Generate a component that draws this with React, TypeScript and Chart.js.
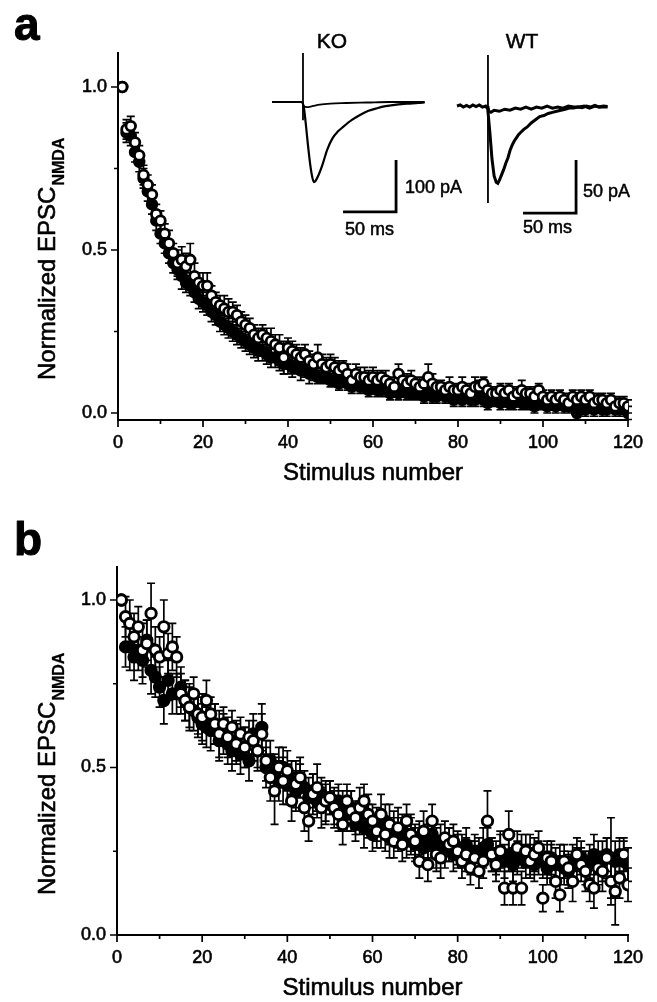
import React, { useEffect, useRef } from "react";
import { Chart, registerables } from "chart.js";
Chart.register(...registerables);

const FONT = '"Liberation Sans", Arial, Helvetica, sans-serif';

// ---------- category / tick data ----------
const stimulus = Array.from({ length: 120 }, (_, i) => i + 1);
const xMajorTicks = [0, 20, 40, 60, 80, 100, 120];
const xMinorTicks = [10, 30, 50, 70, 90, 110];
const yMajorTicks = [0, 0.5, 1.0];
const yMinorTicks = [0.25, 0.75];

// ---------- panel a ----------
const openA = [
  1.0, 0.87, 0.88, 0.83, 0.79, 0.73, 0.7, 0.67, 0.61, 0.59,
  0.55, 0.52, 0.49, 0.46, 0.47, 0.45, 0.47, 0.42, 0.4, 0.39,
  0.39, 0.36, 0.34, 0.33, 0.32, 0.31, 0.31, 0.3, 0.28, 0.27,
  0.26, 0.24, 0.23, 0.24, 0.23, 0.22, 0.21, 0.2, 0.17, 0.2,
  0.19, 0.18, 0.17, 0.18, 0.16, 0.15, 0.17, 0.15, 0.14, 0.15,
  0.14, 0.13, 0.14, 0.12, 0.1, 0.12, 0.11, 0.11, 0.1, 0.11,
  0.1, 0.11, 0.1, 0.09, 0.08, 0.12, 0.1, 0.09, 0.1, 0.09,
  0.08, 0.09, 0.11, 0.09, 0.08, 0.08, 0.07, 0.08, 0.07, 0.07,
  0.08, 0.07, 0.06, 0.08, 0.08, 0.09, 0.07, 0.06, 0.06, 0.07,
  0.06, 0.07, 0.05, 0.06, 0.07, 0.06, 0.06, 0.05, 0.07, 0.05,
  0.04, 0.05, 0.04, 0.05, 0.04, 0.03, 0.05, 0.04, 0.05, 0.04,
  0.05, 0.03, 0.04, 0.04, 0.03, 0.04, 0.02, 0.03, 0.03, 0.02,
];
const errOpenA = [
  0.0, 0.03, 0.03, 0.03, 0.03, 0.03, 0.03, 0.03, 0.03, 0.03,
  0.03, 0.04, 0.03, 0.04, 0.04, 0.04, 0.05, 0.04, 0.03, 0.04,
  0.04, 0.03, 0.03, 0.03, 0.04, 0.04, 0.03, 0.03, 0.03, 0.03,
  0.03, 0.03, 0.03, 0.03, 0.03, 0.04, 0.03, 0.04, 0.05, 0.03,
  0.03, 0.03, 0.03, 0.03, 0.03, 0.03, 0.04, 0.03, 0.03, 0.03,
  0.03, 0.03, 0.02, 0.03, 0.03, 0.03, 0.03, 0.03, 0.03, 0.03,
  0.03, 0.02, 0.03, 0.02, 0.03, 0.03, 0.02, 0.03, 0.03, 0.02,
  0.03, 0.02, 0.04, 0.03, 0.02, 0.02, 0.02, 0.03, 0.02, 0.02,
  0.03, 0.02, 0.02, 0.03, 0.02, 0.02, 0.02, 0.02, 0.02, 0.02,
  0.02, 0.02, 0.02, 0.02, 0.03, 0.02, 0.02, 0.02, 0.02, 0.02,
  0.02, 0.02, 0.02, 0.02, 0.02, 0.02, 0.02, 0.02, 0.02, 0.02,
  0.02, 0.02, 0.02, 0.02, 0.02, 0.02, 0.02, 0.02, 0.02, 0.02,
];
const filledA = [
  1.0, 0.86, 0.85, 0.8, 0.77, 0.72, 0.68, 0.64, 0.59, 0.55,
  0.52, 0.49, 0.46, 0.44, 0.42, 0.4, 0.39, 0.37, 0.35, 0.34,
  0.33, 0.31, 0.3, 0.28, 0.27, 0.26, 0.25, 0.24, 0.23, 0.22,
  0.21, 0.2, 0.19, 0.19, 0.18, 0.17, 0.17, 0.16, 0.15, 0.15,
  0.14, 0.14, 0.13, 0.13, 0.12, 0.12, 0.11, 0.11, 0.11, 0.1,
  0.1, 0.09, 0.1, 0.09, 0.08, 0.09, 0.08, 0.08, 0.07, 0.08,
  0.07, 0.07, 0.08, 0.06, 0.07, 0.06, 0.07, 0.06, 0.06, 0.06,
  0.06, 0.05, 0.06, 0.05, 0.05, 0.06, 0.05, 0.05, 0.04, 0.05,
  0.04, 0.05, 0.04, 0.04, 0.05, 0.04, 0.03, 0.04, 0.04, 0.03,
  0.04, 0.03, 0.03, 0.04, 0.03, 0.03, 0.03, 0.02, 0.03, 0.03,
  0.02, 0.03, 0.02, 0.03, 0.02, 0.02, 0.02, 0.0, 0.02, 0.01,
  0.02, 0.01, 0.02, 0.01, 0.01, 0.02, 0.01, 0.01, 0.02, 0.0,
];
const errFilledA = [
  0.0, 0.03, 0.03, 0.03, 0.03, 0.03, 0.03, 0.03, 0.03, 0.03,
  0.03, 0.03, 0.03, 0.03, 0.04, 0.03, 0.03, 0.03, 0.03, 0.03,
  0.03, 0.03, 0.03, 0.03, 0.03, 0.03, 0.03, 0.03, 0.03, 0.03,
  0.03, 0.03, 0.03, 0.03, 0.03, 0.03, 0.03, 0.03, 0.03, 0.03,
  0.03, 0.02, 0.03, 0.02, 0.03, 0.02, 0.02, 0.02, 0.02, 0.02,
  0.02, 0.02, 0.02, 0.02, 0.02, 0.02, 0.02, 0.02, 0.02, 0.02,
  0.02, 0.02, 0.02, 0.02, 0.02, 0.02, 0.02, 0.02, 0.02, 0.02,
  0.02, 0.02, 0.02, 0.02, 0.02, 0.02, 0.02, 0.02, 0.02, 0.02,
  0.02, 0.02, 0.02, 0.02, 0.02, 0.02, 0.02, 0.02, 0.02, 0.02,
  0.02, 0.02, 0.02, 0.02, 0.02, 0.02, 0.02, 0.02, 0.02, 0.02,
  0.02, 0.02, 0.02, 0.02, 0.02, 0.02, 0.02, 0.02, 0.02, 0.02,
  0.02, 0.02, 0.02, 0.02, 0.02, 0.02, 0.02, 0.02, 0.02, 0.02,
];

// ---------- panel b ----------
const openB = [
  1.0, 0.95, 0.93, 0.89, 0.92, 0.85, 0.87, 0.96, 0.85, 0.83,
  0.92, 0.84, 0.86, 0.83, 0.72, 0.7, 0.68, 0.72, 0.66, 0.65,
  0.7, 0.66, 0.63, 0.6, 0.63, 0.59, 0.62, 0.57, 0.6, 0.56,
  0.59, 0.58, 0.55, 0.6, 0.52, 0.47, 0.43, 0.5, 0.46, 0.49,
  0.4, 0.45, 0.47, 0.38, 0.34, 0.42, 0.44, 0.38, 0.4, 0.41,
  0.38, 0.36, 0.33, 0.4, 0.37, 0.35, 0.38, 0.4, 0.36, 0.34,
  0.31, 0.36, 0.3, 0.33, 0.28, 0.32, 0.27, 0.34, 0.3, 0.28,
  0.22, 0.31, 0.21, 0.34, 0.24, 0.23, 0.29, 0.27, 0.28, 0.25,
  0.22, 0.24, 0.2, 0.23, 0.19, 0.22, 0.34, 0.24, 0.21, 0.25,
  0.14, 0.3, 0.14, 0.26, 0.14, 0.25, 0.22, 0.24, 0.26, 0.11,
  0.23, 0.22, 0.16, 0.12, 0.22, 0.2, 0.16, 0.24, 0.21, 0.19,
  0.15, 0.14, 0.2, 0.19, 0.23, 0.16, 0.13, 0.17, 0.24, 0.15,
];
const errOpenB = [
  0.0, 0.06, 0.07, 0.07, 0.06, 0.08, 0.07, 0.09, 0.07, 0.06,
  0.08, 0.06, 0.07, 0.06, 0.06, 0.06, 0.07, 0.05, 0.06, 0.07,
  0.06, 0.05, 0.06, 0.07, 0.05, 0.06, 0.05, 0.06, 0.05, 0.06,
  0.05, 0.06, 0.05, 0.06, 0.06, 0.07, 0.1, 0.06, 0.07, 0.06,
  0.06, 0.07, 0.06, 0.07, 0.06, 0.06, 0.07, 0.06, 0.06, 0.05,
  0.06, 0.05, 0.06, 0.05, 0.06, 0.05, 0.06, 0.05, 0.06, 0.05,
  0.05, 0.06, 0.05, 0.06, 0.05, 0.06, 0.05, 0.05, 0.06, 0.05,
  0.05, 0.06, 0.05, 0.05, 0.05, 0.06, 0.05, 0.05, 0.05, 0.05,
  0.05, 0.05, 0.05, 0.05, 0.05, 0.05, 0.09, 0.05, 0.05, 0.06,
  0.05, 0.07, 0.05, 0.05, 0.05, 0.05, 0.05, 0.05, 0.05, 0.04,
  0.05, 0.05, 0.05, 0.05, 0.05, 0.05, 0.06, 0.05, 0.05, 0.06,
  0.05, 0.06, 0.05, 0.06, 0.06, 0.07, 0.1, 0.06, 0.05, 0.05,
];
const filledB = [
  1.0, 0.86, 0.86, 0.83, 0.85, 0.82, 0.88, 0.79, 0.77, 0.74,
  0.7, 0.76, 0.72, 0.72, 0.74, 0.7, 0.68, 0.67, 0.65, 0.63,
  0.62, 0.61, 0.63, 0.58, 0.6, 0.57, 0.55, 0.58, 0.54, 0.56,
  0.52, 0.6, 0.55, 0.62, 0.5, 0.52, 0.48, 0.46, 0.5, 0.45,
  0.47, 0.43, 0.46, 0.44, 0.41, 0.43, 0.4, 0.42, 0.39, 0.41,
  0.38, 0.4, 0.37, 0.36, 0.38, 0.33, 0.35, 0.32, 0.34, 0.3,
  0.33, 0.31, 0.34, 0.29, 0.32, 0.3, 0.31, 0.28, 0.3, 0.27,
  0.29, 0.26, 0.28, 0.3, 0.26, 0.28, 0.25, 0.27, 0.24, 0.26,
  0.25, 0.27, 0.23, 0.25, 0.24, 0.26, 0.27, 0.24, 0.23, 0.25,
  0.22, 0.24, 0.21, 0.23, 0.25, 0.22, 0.24, 0.21, 0.23, 0.22,
  0.2, 0.23, 0.21, 0.22, 0.2, 0.19, 0.22, 0.21, 0.23, 0.2,
  0.22, 0.24, 0.23, 0.22, 0.24, 0.23, 0.22, 0.24, 0.22, 0.21,
];
const errFilledB = [
  0.0, 0.06, 0.07, 0.07, 0.06, 0.07, 0.06, 0.07, 0.06, 0.06,
  0.07, 0.06, 0.06, 0.06, 0.06, 0.06, 0.06, 0.06, 0.06, 0.06,
  0.06, 0.06, 0.06, 0.06, 0.06, 0.06, 0.06, 0.06, 0.06, 0.06,
  0.06, 0.06, 0.06, 0.07, 0.06, 0.06, 0.06, 0.06, 0.06, 0.06,
  0.05, 0.06, 0.05, 0.05, 0.06, 0.05, 0.05, 0.05, 0.06, 0.05,
  0.05, 0.05, 0.06, 0.05, 0.05, 0.05, 0.05, 0.06, 0.05, 0.05,
  0.05, 0.05, 0.05, 0.06, 0.05, 0.05, 0.05, 0.05, 0.05, 0.05,
  0.05, 0.05, 0.05, 0.05, 0.06, 0.05, 0.05, 0.05, 0.05, 0.05,
  0.05, 0.05, 0.05, 0.05, 0.05, 0.06, 0.05, 0.05, 0.05, 0.05,
  0.05, 0.05, 0.05, 0.05, 0.05, 0.05, 0.06, 0.05, 0.05, 0.05,
  0.05, 0.05, 0.05, 0.05, 0.05, 0.05, 0.05, 0.05, 0.05, 0.05,
  0.05, 0.06, 0.05, 0.06, 0.05, 0.12, 0.06, 0.05, 0.06, 0.05,
];

// ---------- inset traces (time in ms, current in pA) ----------
const koTime = [0, 10, 20, 28, 30, 32, 34, 36, 38, 39.5, 41, 44, 48, 52, 57, 62, 67, 75, 83, 91, 99, 107, 114, 122, 130, 138, 144];
const koEpsc = [0, 0, 0, 0, -10, -45, -85, -120, -145, -154, -152, -140, -118, -92, -70, -57, -48, -35, -25, -17, -12, -8, -6, -4, -3, -2, -1];
const koCtrlTime = [0, 28, 30, 33, 38, 45, 55, 70, 90, 110, 144];
const koCtrl = [0, 0, -8, -10, -8, -5, -3, -2, -1, 0, 0];
const koArtTime = [29.2, 29.2];
const koArt = [94, -35];
const koBarTime = [67, 117, 117];
const koBar = [-211.5, -211.5, -111.5];

const wtTime = [0, 3, 6, 9, 12, 15, 18, 21, 24, 27, 29, 31, 33, 35, 37, 38.5, 40, 42, 44, 46, 48, 50, 52, 54, 56, 58, 60, 63, 66, 70, 74, 78, 82, 86, 90, 94, 98, 102, 106, 110, 114, 118, 122, 126, 130, 134, 138, 142];
const wtEpsc = [0, 1, -1, 0.5, -1, 1, -0.5, 1, -1, 0, -3, -25, -50, -66, -72, -73, -70, -65, -60, -54, -49, -42, -37, -33, -30, -27, -25, -22, -20, -16, -13, -10, -9, -7, -6, -5, -4, -3, -2, -2, -1, -1.5, 0, -1, 0.5, -1, 0, -0.5];
const wtCtrlTime = [29, 30, 32, 35, 40, 45, 50, 55, 60, 65, 70, 75, 80, 85, 90, 95, 100, 105, 110, 115, 120, 125, 130, 135, 142];
const wtCtrl = [0, -5, -6, -4, -5, -3, -4, -2, -3, -1, -3, -1, -2, 0, -2, -1, -2, 0, -1, -1, 0, -2, 0, -1, -1];
const wtArtTime = [29.2, 29.2];
const wtArt = [48, -91.5];
const wtBarTime = [62.3, 112.3, 112.3];
const wtBar = [-101, -101, -51];

// ---------- helpers ----------
const toPoints = (vals: number[]) => vals.map((v, i) => ({ x: stimulus[i], y: v }));
const toTrace = (t: number[], v: number[]) => t.map((x, i) => ({ x, y: v[i] }));

const errorBars = {
  id: "errorBars",
  beforeDatasetDraw(chart: any, args: any) {
    const ds = chart.data.datasets[args.index];
    if (!ds.errors) return;
    const { ctx } = chart;
    const meta = chart.getDatasetMeta(args.index);
    const xs = chart.scales[meta.xAxisID];
    const ys = chart.scales[meta.yAxisID];
    ctx.save();
    ctx.strokeStyle = "#000";
    ctx.lineWidth = 1.7;
    ctx.beginPath();
    ds.data.forEach((p: any, j: number) => {
      const e = ds.errors[j];
      if (!e) return;
      const px = xs.getPixelForValue(p.x);
      const top = ys.getPixelForValue(p.y + e);
      const bot = ys.getPixelForValue(p.y - e);
      ctx.moveTo(px, top);
      ctx.lineTo(px, bot);
      ctx.moveTo(px - 4, top);
      ctx.lineTo(px + 4, top);
      ctx.moveTo(px - 4, bot);
      ctx.lineTo(px + 4, bot);
    });
    ctx.stroke();
    ctx.restore();
  },
};

const axisTicks = {
  id: "axisTicks",
  afterDraw(chart: any) {
    const { ctx, chartArea } = chart;
    const xs = chart.scales.x;
    const ys = chart.scales.y;
    ctx.save();
    ctx.strokeStyle = "#000";
    ctx.lineWidth = 1.7;
    ctx.beginPath();
    xMajorTicks.forEach((v) => {
      const p = xs.getPixelForValue(v);
      ctx.moveTo(p, chartArea.bottom);
      ctx.lineTo(p, chartArea.bottom + 7);
    });
    xMinorTicks.forEach((v) => {
      const p = xs.getPixelForValue(v);
      ctx.moveTo(p, chartArea.bottom);
      ctx.lineTo(p, chartArea.bottom + 4);
    });
    yMajorTicks.forEach((v) => {
      const p = ys.getPixelForValue(v);
      ctx.moveTo(chartArea.left - 7, p);
      ctx.lineTo(chartArea.left, p);
    });
    yMinorTicks.forEach((v) => {
      const p = ys.getPixelForValue(v);
      ctx.moveTo(chartArea.left - 4, p);
      ctx.lineTo(chartArea.left, p);
    });
    ctx.stroke();
    ctx.restore();
  },
};

function heavyText(ctx: any, s: string, x: number, y: number, w: number) {
  ctx.lineWidth = w;
  ctx.strokeStyle = "#000";
  ctx.strokeText(s, x, y);
  ctx.fillText(s, x, y);
}

function textPlugin(letter: string, letterBaseline: number, insets: boolean) {
  return {
    id: "texts",
    afterDraw(chart: any) {
      const { ctx, chartArea } = chart;
      ctx.save();
      ctx.fillStyle = "#000";
      ctx.lineJoin = "round";
      ctx.textBaseline = "alphabetic";
      ctx.textAlign = "left";
      ctx.font = `bold 46px ${FONT}`;
      heavyText(ctx, letter, 14, letterBaseline, 1);

      // x title
      ctx.font = `24px ${FONT}`;
      ctx.textAlign = "center";
      ctx.textBaseline = "middle";
      heavyText(ctx, "Stimulus number", (chartArea.left + chartArea.right) / 2, chartArea.bottom + 53, 0.6);

      // y title with subscript
      ctx.save();
      ctx.translate(55, chartArea.bottom - 40);
      ctx.rotate(-Math.PI / 2);
      ctx.textAlign = "left";
      ctx.textBaseline = "alphabetic";
      ctx.font = `24px ${FONT}`;
      const main = "Normalized EPSC";
      heavyText(ctx, main, 0, 0, 0.6);
      const w = ctx.measureText(main).width;
      ctx.font = `bold 16px ${FONT}`;
      heavyText(ctx, "NMDA", w + 1, 9, 0.3);
      ctx.restore();

      if (insets) {
        const xk = chart.scales.xk, yk = chart.scales.yk;
        const xw = chart.scales.xw, yw = chart.scales.yw;
        ctx.font = `21px ${FONT}`;
        ctx.textAlign = "center";
        ctx.textBaseline = "middle";
        heavyText(ctx, "KO", xk.getPixelForValue(56.6), yk.getPixelForValue(115), 0.5);
        heavyText(ctx, "WT", xw.getPixelForValue(61.3), yw.getPixelForValue(60.4), 0.5);
        ctx.font = `18px ${FONT}`;
        ctx.textAlign = "left";
        heavyText(ctx, "100 pA", xk.getPixelForValue(125.5), yk.getPixelForValue(-165), 0.5);
        heavyText(ctx, "50 ms", xk.getPixelForValue(68.9), yk.getPixelForValue(-246), 0.5);
        heavyText(ctx, "50 pA", xw.getPixelForValue(118.9), yw.getPixelForValue(-81), 0.5);
        heavyText(ctx, "50 ms", xw.getPixelForValue(62.3), yw.getPixelForValue(-115), 0.5);
      }
      ctx.restore();
    },
  };
}

function scatterSets(open: number[], errOpen: number[], filled: number[], errFilled: number[], r: number, bw: number) {
  return [
    {
      label: "open",
      data: toPoints(open),
      errors: errOpen,
      pointRadius: r,
      pointBackgroundColor: "#fff",
      pointBorderColor: "#000",
      pointBorderWidth: bw,
      xAxisID: "x",
      yAxisID: "y",
    },
    {
      label: "filled",
      data: toPoints(filled),
      errors: errFilled,
      pointRadius: r,
      pointBackgroundColor: "#000",
      pointBorderColor: "#000",
      pointBorderWidth: bw,
      xAxisID: "x",
      yAxisID: "y",
    },
  ];
}

function traceSet(t: number[], v: number[], xid: string, yid: string, width: number, smooth: boolean) {
  return {
    label: "trace",
    data: toTrace(t, v),
    showLine: true,
    pointRadius: 0,
    borderColor: "#000",
    borderWidth: width,
    cubicInterpolationMode: smooth ? "monotone" : "default",
    tension: smooth ? 0.4 : 0,
    xAxisID: xid,
    yAxisID: yid,
    clip: false,
  };
}

function baseScales(xHeight: number, yWidth: number, yMin: number, yMax: number) {
  return {
    x: {
      type: "linear",
      position: "bottom",
      min: 0,
      max: 120,
      afterBuildTicks: (s: any) => {
        s.ticks = xMajorTicks.map((v) => ({ value: v }));
      },
      afterFit: (s: any) => {
        s.height = xHeight;
      },
      ticks: {
        color: "#000",
        font: { family: FONT, size: 18 },
        padding: 12,
        maxRotation: 0,
        autoSkip: false,
        textStrokeColor: "#000",
        textStrokeWidth: 0.6,
      },
      grid: { display: false, drawTicks: false },
      border: { display: true, color: "#000", width: 2 },
    },
    y: {
      type: "linear",
      position: "left",
      min: yMin,
      max: yMax,
      afterBuildTicks: (s: any) => {
        s.ticks = yMajorTicks.map((v) => ({ value: v }));
      },
      afterFit: (s: any) => {
        s.width = yWidth;
      },
      ticks: {
        color: "#000",
        font: { family: FONT, size: 18 },
        padding: 11,
        textStrokeColor: "#000",
        textStrokeWidth: 0.6,
        callback: (v: any) => Number(v).toFixed(1),
      },
      grid: { display: false, drawTicks: false },
      border: { display: true, color: "#000", width: 2 },
    },
  };
}

function configA(): any {
  return {
    type: "scatter",
    data: {
      datasets: [
        ...scatterSets(openA, errOpenA, filledA, errFilledA, 4.8, 2.8),
        traceSet(koTime, koEpsc, "xk", "yk", 2.2, true),
        traceSet(koCtrlTime, koCtrl, "xk", "yk", 1.8, true),
        traceSet(koArtTime, koArt, "xk", "yk", 1.8, false),
        traceSet(koBarTime, koBar, "xk", "yk", 2.8, false),
        traceSet(wtTime, wtEpsc, "xw", "yw", 3, false),
        traceSet(wtCtrlTime, wtCtrl, "xw", "yw", 3, false),
        traceSet(wtArtTime, wtArt, "xw", "yw", 1.8, false),
        traceSet(wtBarTime, wtBar, "xw", "yw", 2.8, false),
      ],
    },
    options: {
      animation: false,
      responsive: false,
      maintainAspectRatio: false,
      events: [],
      layout: { padding: { top: 53, right: 29, bottom: 20, left: 0 } },
      plugins: { legend: { display: false }, tooltip: { enabled: false } },
      scales: {
        ...baseScales(60, 118, -0.0215, 1.1043),
        xk: { type: "linear", display: false, min: -145.3, max: 335.8 },
        yk: { type: "linear", display: false, min: -611.6, max: 94.2 },
        xw: { type: "linear", display: false, min: -319.8, max: 161.3 },
        yw: { type: "linear", display: false, min: -296.2, max: 50 },
      },
    },
    plugins: [errorBars, axisTicks, textPlugin("a", 40, true)],
  };
}

function configB(): any {
  return {
    type: "scatter",
    data: {
      datasets: [...scatterSets(openB, errOpenB, filledB, errFilledB, 5.2, 2.9)],
    },
    options: {
      animation: false,
      responsive: false,
      maintainAspectRatio: false,
      events: [],
      layout: { padding: { top: 67, right: 29, bottom: 17, left: 0 } },
      plugins: { legend: { display: false }, tooltip: { enabled: false } },
      scales: baseScales(50, 117, 0, 1.0985),
    },
    plugins: [errorBars, axisTicks, textPlugin("b", 55, false)],
  };
}

export default function App() {
  const refA = useRef<HTMLCanvasElement>(null);
  const refB = useRef<HTMLCanvasElement>(null);
  useEffect(() => {
    const a = new Chart(refA.current as HTMLCanvasElement, configA());
    const b = new Chart(refB.current as HTMLCanvasElement, configB());
    return () => {
      a.destroy();
      b.destroy();
    };
  }, []);
  return (
    <div
      style={{
        position: "absolute",
        left: 0,
        top: 0,
        width: 657,
        height: 1002,
        background: "#fff",
        overflow: "hidden",
      }}
    >
      <canvas
        ref={refA}
        width={657}
        height={500}
        style={{ position: "absolute", left: 0, top: 0, width: 657, height: 500 }}
      />
      <canvas
        ref={refB}
        width={657}
        height={502}
        style={{ position: "absolute", left: 0, top: 500, width: 657, height: 502 }}
      />
    </div>
  );
}
